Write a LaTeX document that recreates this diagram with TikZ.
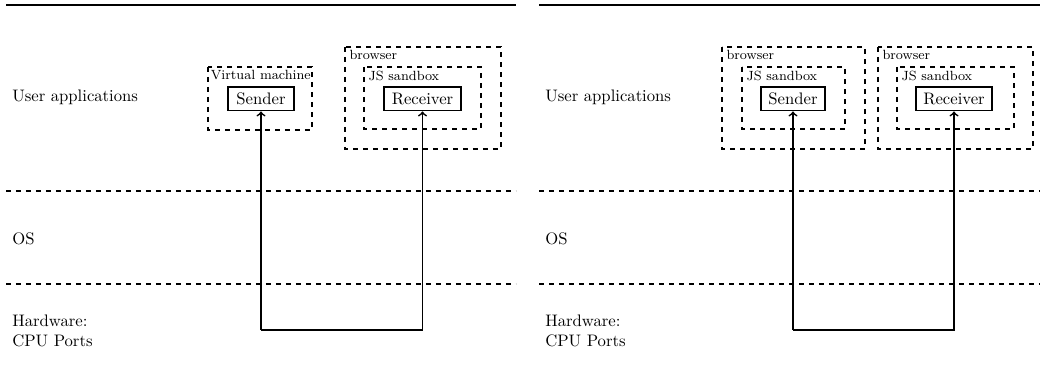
\documentclass[tikz,border=0pt]{standalone}
\begin{document}
\begin{tikzpicture}[x=0.6pt,y=-0.6pt,
  lay/.style={anchor=west,inner sep=0pt,font=\normalsize},
  app/.style={draw,line width=1pt,minimum height=14pt,inner sep=0pt,anchor=center},
  cage/.style={draw,dashed,line width=1pt},
  cagelabel/.style={anchor=north west,inner xsep=2.5pt,inner ysep=2pt,font=\footnotesize},
  sep/.style={dashed,line width=0.9pt},
  top/.style={line width=1.1pt},
  link/.style={line width=1pt,->}]
\useasboundingbox (0,0) rectangle (1040,374);
% ---------- left panel ----------
\coordinate (l0) at (6,5); \coordinate (l1) at (516,5);
\draw[top] (l0) -- (l1);
\coordinate (d0) at (6,191); \coordinate (d1) at (516,191);
\coordinate (e0) at (6,284); \coordinate (e1) at (516,284);
\draw[sep] (d0) -- (d1);
\draw[sep] (e0) -- (e1);
\node[lay] (ua1) at (12,97) {User applications};
\node[lay] (os1) at (12,239) {OS};
\node[lay,align=left] (hw1) at (12,331) {Hardware:\\CPU Ports};
\draw[cage] (208,67) rectangle (312,130);
\node[cagelabel,inner xsep=1.5pt] (vm1) at (208,67) {Virtual machine};
\draw[cage] (345,47) rectangle (501,149);
\node[cagelabel] (br1) at (345,47) {browser};
\draw[cage] (364,67) rectangle (481,129);
\node[cagelabel] (js1) at (364,67) {JS sandbox};
\node[app,minimum width=66*0.6pt] (snd1) at (261,99) {Sender};
\node[app,minimum width=77*0.6pt] (rcv1) at (422.5,99) {Receiver};
\coordinate (b1) at (261,330);
\draw[link] (b1) -- (snd1.south);
\draw[link] (b1) -- (b1 -| rcv1.south) -- (rcv1.south);
% ---------- right panel ----------
\coordinate (r0) at (539,5); \coordinate (r1) at (1040,5);
\draw[top] (r0) -- (r1);
\coordinate (f0) at (539,191); \coordinate (f1) at (1040,191);
\coordinate (g0) at (539,284); \coordinate (g1) at (1040,284);
\draw[sep] (f0) -- (f1);
\draw[sep] (g0) -- (g1);
\node[lay] (ua2) at (545,97) {User applications};
\node[lay] (os2) at (545,239) {OS};
\node[lay,align=left] (hw2) at (545,331) {Hardware:\\CPU Ports};
\draw[cage] (722,47) rectangle (865,149);
\node[cagelabel] (br2) at (722,47) {browser};
\draw[cage] (742,67) rectangle (845,129);
\node[cagelabel] (js2) at (742,67) {JS sandbox};
\draw[cage] (878,47) rectangle (1033,149);
\node[cagelabel] (br3) at (878,47) {browser};
\draw[cage] (897,67) rectangle (1014,129);
\node[cagelabel] (js3) at (897,67) {JS sandbox};
\node[app,minimum width=64*0.6pt] (snd2) at (793,99) {Sender};
\node[app,minimum width=76*0.6pt] (rcv2) at (954,99) {Receiver};
\coordinate (b2) at (793,330);
\draw[link] (b2) -- (snd2.south);
\draw[link] (b2) -- (b2 -| rcv2.south) -- (rcv2.south);
\end{tikzpicture}
\end{document}
